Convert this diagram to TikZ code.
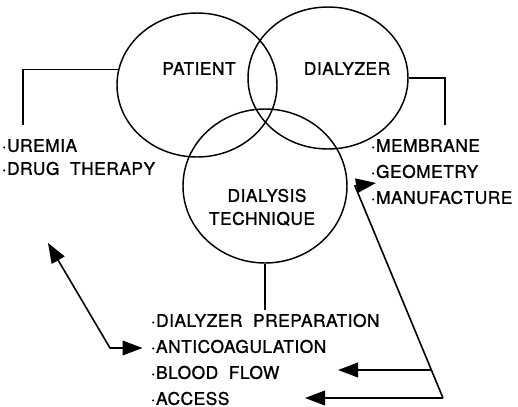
\documentclass[tikz,border=0pt]{standalone}
\usepackage{fontspec}
\setmainfont{TeX Gyre Heros}[LetterSpace=3, WordSpace=2, FakeBold=1.2]
\usetikzlibrary{positioning, shapes.geometric, arrows.meta, calc}
\tikzset{kreis/.style={ellipse,draw,line width=1.1pt,inner sep=0},
	schrift/.style={inner sep=0,text height=0.72em,text depth=0pt,font=\fontsize{13}{15}\selectfont},
	eintrag/.style={schrift,anchor=west},
	linie/.style={line width=1.1pt},
	pfeil/.style={line width=1.2pt,-{Triangle[length=15pt,width=11pt]}},
	doppelpfeil/.style={line width=1.2pt,{Triangle[length=15pt,width=11pt]}-{Triangle[length=15pt,width=11pt]}} }

\begin{document}
\begin{tikzpicture}[x=0.75pt,y=-0.75pt]
  \useasboundingbox (0,0) rectangle (518,407);

  % die drei Kreise
  \node (patient) [kreis, minimum width=120pt, minimum height=108pt] at (197,85) {};
  \node (dialyzer) [kreis, minimum width=120pt, minimum height=106.5pt] at (328,78) {};
  \node (technik) [kreis, minimum width=123pt, minimum height=115.5pt] at (265,186) {};

  \node (tPatient) [schrift] at (199,70) {PATIENT};
  \node (tDialyzer) [schrift] at (347,70) {DIALYZER};
  \node (tDialysis) [schrift] at (267,197) {DIALYSIS};
  \node (tTechnik) [schrift] at (262,220) {TECHNIQUE};

  % Listen
  \node (uremia) [eintrag] at (1.5,147) {·UREMIA};
  \node (drug) [below=17.25pt of uremia.west, eintrag] {·DRUG THERAPY};

  \node (membran) [eintrag] at (370.5,147) {·MEMBRANE};
  \node (geometrie) [below=19.5pt of membran.west, eintrag] {·GEOMETRY};
  \node (herstellung) [below=19.5pt of geometrie.west, eintrag] {·MANUFACTURE};

  \node (prep) [eintrag] at (150.5,322) {·DIALYZER PREPARATION};
  \node (anti) [below=19.5pt of prep.west, eintrag] {·ANTICOAGULATION};
  \node (blut) [below=19.5pt of anti.west, eintrag] {·BLOOD FLOW};
  \node (zugang) [below=19.5pt of blut.west, eintrag] {·ACCESS};

  % Klammern
  \coordinate (uremiaOben) at (23,125);
  \coordinate (membranOben) at (445,125);
  \coordinate (prepOben) at (265,310);
  \draw [linie] (patient.169) -| (uremiaOben);
  \draw [linie] (dialyzer.east) -| (membranOben);
  \draw [linie] (technik.south) -- (prepOben);

  % Pfeile
  \coordinate (zuPatient) at (48,243);
  \coordinate (knickL) at (110,348);
  \draw [doppelpfeil, shorten >=6pt] (zuPatient) -- (knickL) -- (anti.west);

  \coordinate (fussR) at (443,398);
  \coordinate (knickR) at (355,186);
  \coordinate (zuDialyzer) at (376,183);
  \coordinate (abzweig) at ($(fussR)!0.132!(knickR)$);
  \coordinate (zuBlut) at (338,370);
  \coordinate (zuZugang) at (305,398);
  \draw [pfeil] (fussR) -- (knickR) -- (zuDialyzer);
  \draw [pfeil] (fussR) -- (zuZugang);
  \draw [pfeil] (abzweig) -- (zuBlut);
\end{tikzpicture}
\end{document}
